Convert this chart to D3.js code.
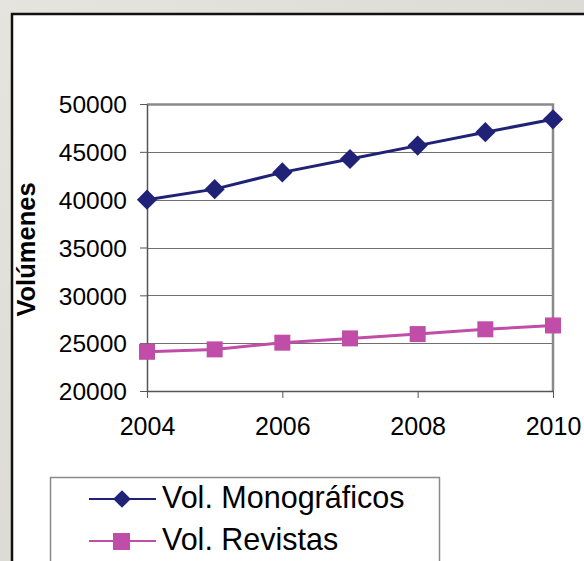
<!DOCTYPE html>
<html>
<head>
<meta charset="utf-8">
<script src="https://cdn.jsdelivr.net/npm/d3@7"></script>
<style>
  body { margin: 0; padding: 0; }
  svg { display: block; }
</style>
</head>
<body>
<div id="chart"></div>
<script>
// data
const years = [2004, 2005, 2006, 2007, 2008, 2009, 2010];
const monograficos = [40000, 41100, 42850, 44250, 45650, 47050, 48400];
const revistas = [24100, 24350, 25050, 25500, 25950, 26450, 26850];
const yTicks = [20000, 25000, 30000, 35000, 40000, 45000, 50000];
const xTicks = [2004, 2006, 2008, 2010];
const seriesNames = ["Vol. Monográficos", "Vol. Revistas"];

const W = 584, H = 561;
const margin = {top: 104, right: 31, bottom: 170, left: 147};
const width = W - margin.left - margin.right;
const height = H - margin.top - margin.bottom;
const navy = "#202278";
const pink = "#c04ea8";
const font = "Arial, 'Liberation Sans', sans-serif";

const svg = d3.select("#chart").append("svg")
  .attr("width", W)
  .attr("height", H);

// textured-looking background
const defs = svg.append("defs");
const grad = defs.append("linearGradient").attr("id", "bg")
  .attr("x1", 0).attr("y1", 0).attr("x2", 1).attr("y2", 1);
grad.append("stop").attr("offset", "0%").attr("stop-color", "#e6e4de");
grad.append("stop").attr("offset", "50%").attr("stop-color", "#dcdbd6");
grad.append("stop").attr("offset", "100%").attr("stop-color", "#e3e1dc");
svg.append("rect").attr("width", W).attr("height", H).attr("fill", "url(#bg)");

// white chart box, runs past right and bottom
svg.append("rect")
  .attr("x", 12).attr("y", 14)
  .attr("width", W).attr("height", H)
  .attr("fill", "white")
  .attr("stroke", "#111")
  .attr("stroke-width", 2.5);

const g = svg.append("g")
  .attr("transform", `translate(${margin.left},${margin.top})`);

const x = d3.scaleLinear().domain([2004, 2010]).range([0, width]);
const y = d3.scaleLinear().domain([20000, 50000]).range([height, 0]);

// gridlines
g.append("g")
  .selectAll("line")
  .data(yTicks.slice(1))
  .join("line")
    .attr("x1", 0).attr("x2", width)
    .attr("y1", d => Math.round(y(d)) + 0.5)
    .attr("y2", d => Math.round(y(d)) + 0.5)
    .attr("stroke", "#707070")
    .attr("stroke-width", 1);

// plot area border (top and right)
g.append("path")
  .attr("d", `M0,0.5H${width}V${height}`)
  .attr("fill", "none")
  .attr("stroke", "#8a8a8a")
  .attr("stroke-width", 2.5);

// y axis
g.append("g")
  .call(d3.axisLeft(y).tickValues(yTicks).tickSize(7).tickSizeOuter(0).tickFormat(d3.format("d")))
  .call(g => g.select(".domain").attr("stroke", "#555").attr("stroke-width", 1.5))
  .call(g => g.selectAll(".tick line").attr("stroke", "#555"))
  .call(g => g.selectAll("text")
    .attr("x", -20)
    .attr("dy", "0.36em")
    .attr("font-family", font)
    .attr("font-size", 24.5)
    .attr("fill", "#000"));

// x axis
g.append("g")
  .attr("transform", `translate(0,${height})`)
  .call(d3.axisBottom(x).tickValues(xTicks).tickSize(7).tickSizeOuter(0).tickFormat(d3.format("d")))
  .call(g => g.select(".domain").attr("stroke", "#555").attr("stroke-width", 1.5))
  .call(g => g.selectAll(".tick line").attr("stroke", "#555"))
  .call(g => g.selectAll("text")
    .attr("y", 35)
    .attr("dy", "0.36em")
    .attr("font-family", font)
    .attr("font-size", 25)
    .attr("fill", "#000"));

// axis title
svg.append("text")
  .attr("transform", `translate(35,${margin.top + height / 2 + 2}) rotate(-90)`)
  .attr("text-anchor", "middle")
  .attr("font-family", font)
  .attr("font-weight", "bold")
  .attr("font-size", 25.5)
  .text("Volúmenes");

const line = d3.line()
  .x((d, i) => x(years[i]))
  .y(d => y(d));

const diamond = d3.symbol().type(d3.symbolDiamond2).size(260);

g.append("path")
  .datum(monograficos)
  .attr("fill", "none")
  .attr("stroke", navy)
  .attr("stroke-width", 3)
  .attr("d", line);

g.append("g")
  .selectAll("path")
  .data(monograficos)
  .join("path")
    .attr("transform", (d, i) => `translate(${x(years[i])},${y(d)})`)
    .attr("d", diamond)
    .attr("fill", navy);

g.append("path")
  .datum(revistas)
  .attr("fill", "none")
  .attr("stroke", pink)
  .attr("stroke-width", 3)
  .attr("d", line);

g.append("g")
  .selectAll("rect")
  .data(revistas)
  .join("rect")
    .attr("x", (d, i) => x(years[i]) - 8)
    .attr("y", d => y(d) - 8)
    .attr("width", 16)
    .attr("height", 16)
    .attr("fill", pink);

// legend
const legend = svg.append("g");
legend.append("rect")
  .attr("x", 50.5).attr("y", 477.5)
  .attr("width", 389).attr("height", 120)
  .attr("fill", "white")
  .attr("stroke", "#8a8a8a")
  .attr("stroke-width", 1.5);

const items = legend.selectAll("g.item")
  .data(seriesNames)
  .join("g")
    .attr("class", "item")
    .attr("transform", (d, i) => `translate(0,${499 + i * 42})`);

items.append("line")
  .attr("x1", 89).attr("x2", 156)
  .attr("stroke", (d, i) => i === 0 ? navy : pink)
  .attr("stroke-width", 2);

items.each(function(d, i) {
  const it = d3.select(this);
  if (i === 0) {
    it.append("path")
      .attr("transform", "translate(122,0)")
      .attr("d", d3.symbol().type(d3.symbolDiamond2).size(200))
      .attr("fill", navy);
  } else {
    it.append("rect")
      .attr("x", 113).attr("y", -8)
      .attr("width", 17).attr("height", 17)
      .attr("fill", pink);
  }
});

items.append("text")
  .attr("x", 162)
  .attr("y", -2)
  .attr("dy", "0.36em")
  .attr("font-family", font)
  .attr("font-size", 30.5)
  .text(d => d);
</script>
</body>
</html>
